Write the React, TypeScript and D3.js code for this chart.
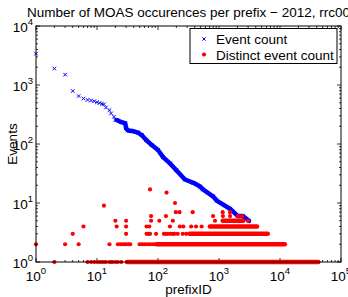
import React from 'react';
import * as d3 from 'd3';

// sparse "Event count" markers (prefixID, count)
const eventIds = [1, 2, 3, 4, 5, 6, 7, 8, 9, 10, 11, 12, 13, 14, 16, 17, 19, 20];
const eventCounts = [3400, 1900, 1500, 790, 650, 590, 560, 545, 530, 510, 495, 480, 470, 415, 375, 330, 290, 255];

// dense part of "Event count", traced as a band
const curveIds = [21, 25, 29, 30, 32, 38, 47, 54, 64, 79, 100, 121, 157, 200, 276, 380, 490, 545, 795, 915, 1510, 2040, 2460, 3100];
const curveCounts = [255, 235, 225, 185, 170, 166, 156, 142, 117, 96, 79, 60, 47, 36, 25, 22, 19, 17, 13, 11, 8, 6, 6, 5];

// dense rows of "Distinct event count": value, first and last prefixID
const runValues = [1, 2, 3, 4, 5];
const runStart = [31, 95, 330, 710, 1150];
const runEnd = [42500, 12000, 6300, 4200, 2500];

// sparse "Distinct event count" points
const distinctIds = [
  2, 7, 8, 9, 10, 11, 12, 13, 14, 16, 17, 18, 20, 22, 25,
  1, 3, 5, 16, 22, 24, 26, 28, 30, 33, 35, 50, 55, 60, 66, 72, 80, 88,
  4, 30, 65, 70, 74, 93, 125, 135, 145, 160, 175, 185, 210, 255, 290,
  6, 21, 30, 65, 72, 157, 228, 260, 350, 420, 520,
  20, 30, 77, 105, 175, 860, 3000,
  77, 135, 800, 1160, 1520, 2050, 2380,
  196, 225, 370, 1150, 1520,
  13, 190, 138, 74,
];
const distinctCounts = [
  1, 1, 1, 1, 1, 1, 1, 1, 1, 1, 1, 1, 1, 1, 1,
  2, 2, 2, 2, 2, 2, 2, 2, 2, 2, 2, 2, 2, 2, 2, 2, 2, 2,
  3, 3, 3, 3, 3, 3, 3, 3, 3, 3, 3, 3, 3, 3, 3,
  4, 4, 4, 4, 4, 4, 4, 4, 4, 4, 4,
  5, 5, 5, 5, 5, 5, 5,
  6, 6, 6, 6, 6, 6, 6,
  7, 7, 7, 7, 7,
  9, 10, 15, 17,
];

const xDecades = [0, 1, 2, 3, 4, 5];
const yDecades = [0, 1, 2, 3, 4];

const W = 348;
const H = 297;
const left = 36, right = 341, top = 26, bottom = 262;
const font = 'Liberation Sans, Arial, sans-serif';
const blue = '#0000ff';
const red = '#ff0000';

const App = () => {
  const x = d3.scaleLog().domain([1, 1e5]).range([left, right]);
  const y = d3.scaleLog().domain([1, 1e4]).range([bottom, top]);

  const minor = (decs: number[]) => {
    const out: number[] = [];
    decs.slice(0, -1).forEach(d => {
      for (let k = 2; k <= 9; k++) out.push(k * Math.pow(10, d));
    });
    return out;
  };
  const xMinor = minor(xDecades);
  const yMinor = minor(yDecades);

  const curve = d3.line<number>().x((_, i) => x(curveIds[i])).y((_, i) => y(curveCounts[i]));

  return (
    <svg width={W} height={H} style={{ position: 'absolute', left: 0, top: 0 }} fontFamily={font}>
      <rect width={W} height={H} fill="#fff" />
      <text x={(left + right) / 2} y={17} fontSize={13.5} textAnchor="middle">
        Number of MOAS occurences per prefix − 2012, rrc00
      </text>

      {/* ticks */}
      <g stroke="#000" strokeWidth={0.8}>
        {xDecades.map(d => {
          const px = x(Math.pow(10, d));
          return (
            <g key={'xM' + d}>
              <line x1={px} x2={px} y1={bottom} y2={bottom - 4} />
              <line x1={px} x2={px} y1={top} y2={top + 4} />
            </g>
          );
        })}
        {xMinor.map(v => (
          <g key={'xm' + v}>
            <line x1={x(v)} x2={x(v)} y1={bottom} y2={bottom - 2} />
            <line x1={x(v)} x2={x(v)} y1={top} y2={top + 2} />
          </g>
        ))}
        {yDecades.map(d => {
          const py = y(Math.pow(10, d));
          return (
            <g key={'yM' + d}>
              <line x1={left} x2={left + 4} y1={py} y2={py} />
              <line x1={right} x2={right - 4} y1={py} y2={py} />
            </g>
          );
        })}
        {yMinor.map(v => (
          <g key={'ym' + v}>
            <line x1={left} x2={left + 2} y1={y(v)} y2={y(v)} />
            <line x1={right} x2={right - 2} y1={y(v)} y2={y(v)} />
          </g>
        ))}
      </g>

      {/* Event count */}
      <path d={curve(curveIds) || ''} fill="none" stroke={blue} strokeWidth={4.5} strokeLinejoin="round" strokeLinecap="round" />
      <g stroke={blue} strokeWidth={1}>
        {eventIds.map((id, i) => {
          const cx = x(id), cy = y(eventCounts[i]);
          return (
            <path key={'e' + i} d={`M${cx - 1.8},${cy - 1.8}L${cx + 1.8},${cy + 1.8}M${cx - 1.8},${cy + 1.8}L${cx + 1.8},${cy - 1.8}`} />
          );
        })}
        {curveIds.map((id, i) => {
          const cx = x(id), cy = y(curveCounts[i]);
          return (
            <path key={'c' + i} d={`M${cx - 1.8},${cy - 1.8}L${cx + 1.8},${cy + 1.8}M${cx - 1.8},${cy + 1.8}L${cx + 1.8},${cy - 1.8}`} />
          );
        })}
      </g>

      {/* Distinct event count */}
      {runValues.map((v, i) => (
        <line key={'r' + i} x1={x(runStart[i])} x2={x(runEnd[i])} y1={y(v)} y2={y(v)}
          stroke={red} strokeWidth={4.5} strokeLinecap="round" />
      ))}
      {distinctIds.map((id, i) => (
        <circle key={'d' + i} cx={x(id)} cy={y(distinctCounts[i])} r={2.1} fill={red} />
      ))}

      {/* frame */}
      <rect x={left} y={top} width={right - left} height={bottom - top} fill="none" stroke="#000" strokeWidth={1} />

      {/* tick labels */}
      <g fontSize={13.5} fill="#000">
        {xDecades.map(d => (
          <text key={'xl' + d} x={x(Math.pow(10, d))} y={281} textAnchor="middle">
            10<tspan dy={-7} fontSize={9.5}>{d}</tspan>
          </text>
        ))}
        {yDecades.map(d => (
          <text key={'yl' + d} x={33} y={y(Math.pow(10, d)) + 6} textAnchor="end">
            10<tspan dy={-7} fontSize={9.5}>{d}</tspan>
          </text>
        ))}
      </g>

      <text x={(left + right) / 2} y={294} fontSize={13.5} textAnchor="middle">prefixID</text>
      <text transform={`translate(17,${(top + bottom) / 2}) rotate(-90)`} fontSize={13.5} textAnchor="middle">Events</text>

      {/* legend */}
      <rect x={190} y={28.5} width={147} height={35} fill="#fff" stroke="#000" strokeWidth={1} />
      <path d="M202.3,37.3L205.7,40.7M202.3,40.7L205.7,37.3" stroke={blue} strokeWidth={1} />
      <text x={216} y={44} fontSize={13.5}>Event count</text>
      <circle cx={204} cy={54.5} r={2.1} fill={red} />
      <text x={216} y={59.5} fontSize={13.5}>Distinct event count</text>
    </svg>
  );
};

export default App;
